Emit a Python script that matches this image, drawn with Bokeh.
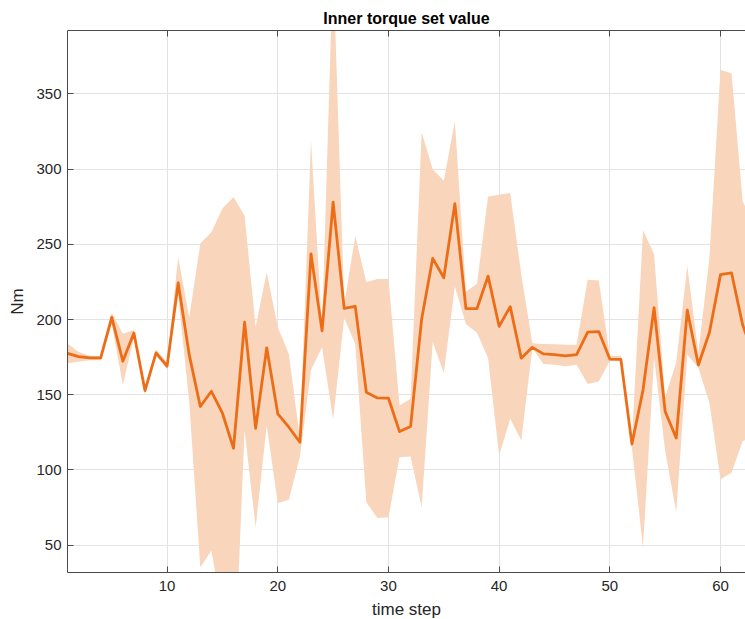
from bokeh.plotting import figure
from bokeh.models import Range1d, LinearAxis, FixedTicker, CustomLabelingPolicy
from bokeh.embed import file_html
from bokeh.resources import INLINE

# ---------------- data ----------------
time_step = list(range(1, 64))

mean_torque = [177.5, 175.4, 174.5, 174.5, 201.5, 172.3, 191.1, 152.8, 177.8, 169.0,
               224.4, 176.5, 142.2, 152.3, 137.7, 114.4, 198.2, 127.7, 181.2, 137.3,
               128.4, 118.4, 243.7, 192.5, 278.0, 207.5, 208.8, 151.7, 147.9, 147.7,
               125.5, 128.9, 200.4, 240.7, 227.8, 277.1, 207.3, 207.3, 228.9, 195.5,
               208.6, 174.3, 181.5, 177.2, 176.7, 175.8, 176.7, 191.6, 192.0, 173.7,
               173.5, 117.2, 153.2, 207.9, 138.8, 121.2, 206.2, 169.8, 191.4, 229.8,
               231.0, 196.5, 176.0]

upper_torque = [184.0, 178.5, 176.0, 175.5, 204.5, 190.5, 193.0, 155.5, 180.0, 171.5,
                241.4, 201.5, 250.5, 258.0, 273.8, 281.5, 269.1, 195.0, 231.5, 195.0,
                177.0, 121.0, 319.0, 195.0, 438.0, 210.0, 255.5, 224.8, 227.0, 227.0,
                142.8, 147.3, 324.5, 300.0, 292.3, 332.0, 218.5, 223.8, 281.8, 283.0,
                284.2, 230.0, 184.3, 183.8, 183.6, 183.2, 183.2, 226.4, 226.0, 176.0,
                176.0, 120.0, 259.3, 243.4, 148.2, 171.5, 235.6, 178.0, 241.0, 366.0,
                363.8, 279.0, 262.0]

lower_torque = [171.0, 172.0, 173.0, 173.0, 197.0, 156.5, 188.0, 150.0, 176.0, 167.0,
                216.0, 145.0, 35.2, 46.5, 5.0, -50.0, 126.2, 61.9, 129.5, 78.0,
                80.1, 109.0, 166.5, 181.6, 133.5, 201.0, 183.8, 78.5, 68.1, 68.5,
                108.5, 109.0, 75.2, 185.0, 164.5, 222.0, 197.0, 191.3, 174.4, 109.6,
                134.0, 119.5, 181.0, 170.5, 170.0, 169.0, 169.9, 157.2, 158.8, 172.5,
                172.5, 114.5, 48.5, 174.6, 112.8, 72.0, 176.8, 167.9, 144.7, 93.8,
                98.2, 119.2, 122.0]

x_ticks = [10, 20, 30, 40, 50, 60]
y_ticks = [50, 100, 150, 200, 250, 300, 350]

title_text = "Inner torque set value"
x_label = "time step"
y_label = "Nm"

# ---------------- styling ----------------
FONT = "Liberation Sans"
LINE_COLOR = "#ED6D17"
BAND_COLOR = "#F8D5BB"
AXIS_COLOR = "#4A4A4A"
TEXT_COLOR = "#262626"
GRID_COLOR = "#E3E3E3"

p = figure(
    frame_width=678, frame_height=542,
    x_range=Range1d(1, 62.26), y_range=Range1d(31.8, 392.2),
    output_backend="svg", toolbar_location=None,
    min_border_left=67, min_border_right=0, min_border_top=30, min_border_bottom=47,
    background_fill_color="white", border_fill_color="white",
)
p.outline_line_color = None

p.varea(x=time_step, y1=lower_torque, y2=upper_torque, fill_color=BAND_COLOR, fill_alpha=1.0)
p.line(x=time_step, y=mean_torque, line_color=LINE_COLOR, line_width=2.8, line_join="round")

# grid
for g in (p.xgrid, p.ygrid):
    g.grid_line_color = GRID_COLOR
    g.grid_line_width = 1
p.xgrid.ticker = FixedTicker(ticks=x_ticks)
p.ygrid.ticker = FixedTicker(ticks=y_ticks)

def style_axis(ax, ticks):
    ax.ticker = FixedTicker(ticks=ticks)
    ax.axis_line_color = AXIS_COLOR
    ax.axis_line_width = 1
    ax.major_tick_line_color = AXIS_COLOR
    ax.major_tick_in = 6
    ax.major_tick_out = 0
    ax.minor_tick_line_color = None
    ax.major_label_text_font = FONT
    ax.major_label_text_font_size = "15px"
    ax.major_label_text_color = TEXT_COLOR
    ax.axis_label_text_font = FONT
    ax.axis_label_text_font_size = "17px"
    ax.axis_label_text_font_style = "normal"
    ax.axis_label_text_color = TEXT_COLOR

style_axis(p.xaxis[0], x_ticks)
style_axis(p.yaxis[0], y_ticks)
p.xaxis[0].axis_label = x_label
p.yaxis[0].axis_label = y_label
p.xaxis[0].major_label_standoff = 8
p.xaxis[0].axis_label_standoff = 6
p.yaxis[0].major_label_standoff = 6
p.yaxis[0].axis_label_standoff = 6

# top frame line with inward ticks, no tick labels; its axis label is the title
top_axis = LinearAxis()
style_axis(top_axis, x_ticks)
top_axis.major_label_standoff = 0
top_axis.major_label_text_font_size = "1px"
top_axis.major_label_policy = CustomLabelingPolicy(code="""
    if (typeof indices.clear === 'function') { indices.clear() }
    else { for (const i of Array.from(indices)) { indices.unset(i) } }
    return indices
""")
top_axis.axis_label = title_text
top_axis.axis_label_text_font_size = "16px"
top_axis.axis_label_text_font_style = "bold"
top_axis.axis_label_text_color = "black"
top_axis.axis_label_standoff = 0
p.add_layout(top_axis, "above")

open("out.html", "w").write(file_html(p, INLINE))
